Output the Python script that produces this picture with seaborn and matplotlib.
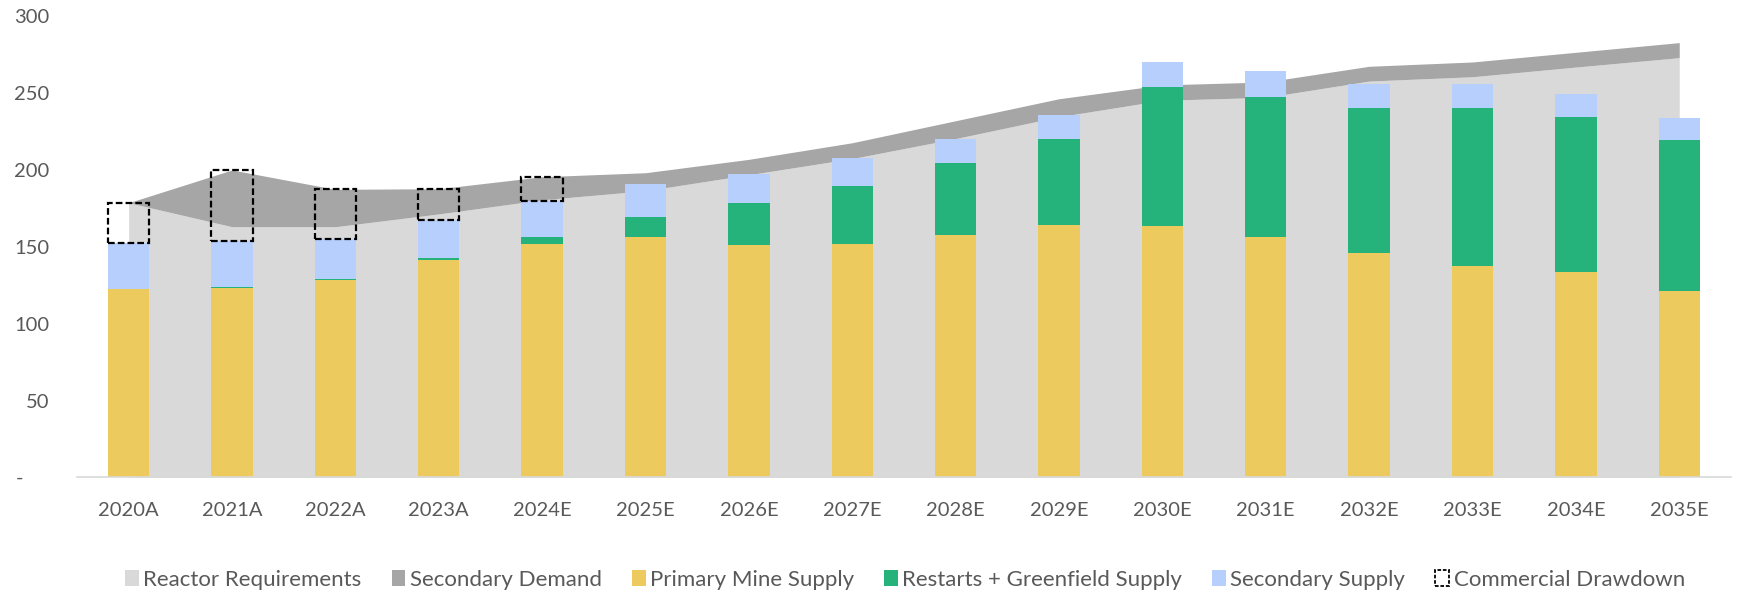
import matplotlib
matplotlib.use("Agg")
import matplotlib.pyplot as plt
from matplotlib.patches import Patch
import seaborn as sns
import numpy as np

years = ["2020A", "2021A", "2022A", "2023A", "2024E", "2025E", "2026E", "2027E",
         "2028E", "2029E", "2030E", "2031E", "2032E", "2033E", "2034E", "2035E"]

reactor_requirements = [178.6, 163.0, 163.0, 171.3, 180.5, 186.4, 196.8, 207.3,
                        220.3, 234.5, 245.2, 247.1, 257.7, 260.5, 266.8, 272.9]
secondary_demand = [0.0, 36.9, 24.3, 16.4, 15.0, 11.7, 10.0, 10.3,
                    11.6, 11.7, 10.0, 10.0, 9.6, 9.6, 9.6, 9.8]

primary_mine = [122.5, 123.0, 128.6, 141.3, 152.0, 156.1, 151.1, 152.0,
                157.4, 164.1, 163.5, 156.5, 145.7, 137.6, 133.5, 121.4]
restarts_greenfield = [0.3, 0.5, 0.6, 1.2, 4.1, 13.4, 27.5, 37.5,
                       47.0, 56.1, 90.3, 91.0, 94.7, 102.6, 101.0, 98.0]
secondary_supply = [29.8, 30.0, 26.0, 24.9, 23.8, 21.3, 18.9, 18.2,
                    15.6, 15.4, 16.5, 16.7, 15.6, 15.8, 15.0, 14.3]

drawdown_years = ["2020A", "2021A", "2022A", "2023A", "2024E"]
commercial_drawdown = [26.0, 46.4, 32.1, 20.3, 15.6]

y_ticks = [0, 50, 100, 150, 200, 250, 300]
y_tick_labels = ["-     ", "50", "100", "150", "200", "250", "300"]

labels = ["Reactor Requirements", "Secondary Demand", "Primary Mine Supply",
          "Restarts + Greenfield Supply", "Secondary Supply", "Commercial Drawdown"]

c_reactor = "#D9D9D9"
c_secdem = "#A6A6A6"
c_primary = "#ECCA5E"
c_green = "#26B37B"
c_blue = "#B7CFFD"
c_text = "#595959"

sns.set_theme(style="white")
plt.rcParams["font.family"] = ["Lato", "DejaVu Sans"]

fig = plt.figure(figsize=(17.37, 5.97), dpi=100)
ax = fig.add_axes([0.0443, 0.2003, 0.9522, 0.7729])

p = np.array(primary_mine)
g = np.array(restarts_greenfield)
b = np.array(secondary_supply)

sns.barplot(x=years, y=primary_mine, order=years, color=c_primary, width=0.4,
            saturation=1, linewidth=0, ax=ax, zorder=3)
sns.barplot(x=years, y=restarts_greenfield, order=years, color=c_green, width=0.4,
            saturation=1, linewidth=0, bottom=p, ax=ax, zorder=3)
sns.barplot(x=years, y=secondary_supply, order=years, color=c_blue, width=0.4,
            saturation=1, linewidth=0, bottom=p + g, ax=ax, zorder=3)

n_before = len(ax.patches)
supply_top = (p + g + b)[:len(drawdown_years)]
sns.barplot(x=drawdown_years, y=commercial_drawdown, order=years, width=0.4,
            color="black", fill=False, saturation=1, bottom=supply_top, ax=ax, zorder=4)
for patch in ax.patches[n_before:]:
    patch.set_fill(False)
    patch.set_edgecolor("black")
    patch.set_linewidth(1.6)
    patch.set_linestyle((0, (3, 1.4)))

xs = np.arange(len(years))
ax.stackplot(xs, reactor_requirements, secondary_demand,
             colors=[c_reactor, c_secdem], linewidth=0, zorder=1)

ax.set_xlim(-0.5, len(years) - 0.5)
ax.set_ylim(0, 300)
ax.set_yticks(y_ticks)
ax.set_yticklabels(y_tick_labels)
ax.set_xlabel("")
ax.set_ylabel("")
for s in ["top", "right", "left"]:
    ax.spines[s].set_visible(False)
ax.spines["bottom"].set_color("#D9D9D9")
ax.spines["bottom"].set_linewidth(1.2)
ax.spines["bottom"].set_zorder(5)
ax.tick_params(axis="both", length=0, labelsize=14.5, labelcolor=c_text)
ax.tick_params(axis="y", pad=20)
ax.tick_params(axis="x", pad=18)
ax.grid(False)

handles = [Patch(facecolor=c_reactor, edgecolor="none"),
           Patch(facecolor=c_secdem, edgecolor="none"),
           Patch(facecolor=c_primary, edgecolor="none"),
           Patch(facecolor=c_green, edgecolor="none"),
           Patch(facecolor=c_blue, edgecolor="none"),
           Patch(facecolor="white", edgecolor="black", linestyle=(0, (2, 1)), linewidth=1.3)]
leg = fig.legend(handles, labels, loc="center", bbox_to_anchor=(0.521, 0.029), ncol=6,
                 frameon=False, handlelength=0.62, handleheight=0.75, handletextpad=0.2,
                 columnspacing=1.35, fontsize=16.0)
for t in leg.get_texts():
    t.set_color(c_text)

fig.savefig("out.png", dpi=100)
